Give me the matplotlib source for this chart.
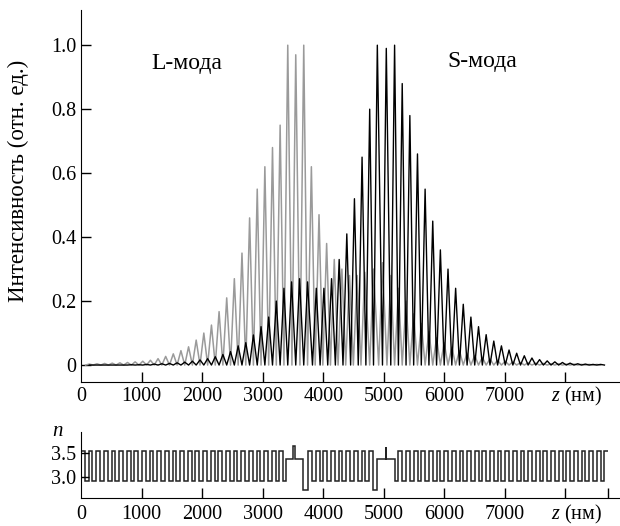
import numpy as np
import matplotlib.pyplot as plt

plt.rcParams['font.family'] = ['Liberation Serif', 'DejaVu Serif']
plt.rcParams['mathtext.fontset'] = 'custom'
plt.rcParams['mathtext.it'] = 'Liberation Serif:italic'
plt.rcParams['mathtext.rm'] = 'Liberation Serif'
plt.rcParams['font.size'] = 14.5

# --- refractive index profile ---
n_hi, n_lo = 3.55, 2.92          # mirror layers
n_cav, n_deep = 3.375, 2.735     # defect layers
n_qw1, n_qw2 = 3.64, 3.62        # thin wells inside the defects
d_hi, d_lo = 63, 63              # mirror layer thickness, nm
n_pairs1, n_pairs2, n_pairs3 = 26, 8, 27

# defect 1: low, cavity (with well), deep
def1_d = [50, 110, 40, 126, 85]
def1_n = [n_lo, n_cav, n_qw1, n_cav, n_deep]
# defect 2: deep, cavity (with well), low
def2_d = [66, 142, 12, 147, 54]
def2_n = [n_deep, n_cav, n_qw2, n_cav, n_lo]

# --- intensity peaks ---
period = 126
# L-mode (grey): left of defect 1, defect 1, between defects, defect 2, right
L_left = [0.003, 0.004, 0.005, 0.006, 0.007, 0.008, 0.01, 0.012, 0.015, 0.02,
          0.027, 0.035, 0.045, 0.057, 0.078, 0.1, 0.125, 0.167, 0.21, 0.27,
          0.35, 0.46, 0.55, 0.62, 0.68, 0.75]
L_def1 = [1.0, 0.97, 1.0]
L_mid = [0.62, 0.47, 0.38, 0.33, 0.3, 0.28, 0.28, 0.29]
L_def2 = [0.3, 0.32, 0.28]
L_right = [0.24, 0.2, 0.16, 0.13, 0.105, 0.085, 0.07, 0.056, 0.045, 0.037,
           0.03, 0.024, 0.019, 0.015, 0.012, 0.01, 0.008, 0.007, 0.006, 0.005,
           0.004, 0.004, 0.003, 0.003, 0.002, 0.002, 0.002]
# S-mode (black)
S_left = [0.0, 0.0, 0.0, 0.0, 0.0, 0.001, 0.001, 0.002, 0.003, 0.004,
          0.005, 0.007, 0.009, 0.012, 0.016, 0.02, 0.026, 0.033, 0.042, 0.06,
          0.07, 0.094, 0.12, 0.15, 0.2, 0.24]
S_def1 = [0.26, 0.27, 0.26]
S_mid = [0.24, 0.24, 0.27, 0.33, 0.41, 0.52, 0.65, 0.8]
S_def2 = [1.0, 0.99, 1.0]
S_right = [0.88, 0.78, 0.66, 0.55, 0.45, 0.36, 0.3, 0.24, 0.19, 0.15,
           0.12, 0.095, 0.075, 0.06, 0.047, 0.037, 0.029, 0.022, 0.017, 0.013,
           0.01, 0.008, 0.006, 0.004, 0.003, 0.002, 0.002]
L_def1_z = [3414, 3546, 3678]
S_def2_z = [4893, 5041, 5178]

xticks = [0, 1000, 2000, 3000, 4000, 5000, 6000, 7000]


def build_layers():
    d, n = [], []
    d += [d_hi, d_lo] * n_pairs1 + [d_hi]
    n += [n_hi, n_lo] * n_pairs1 + [n_hi]
    d += def1_d
    n += def1_n
    d += [d_hi, d_lo] * n_pairs2 + [d_hi]
    n += [n_hi, n_lo] * n_pairs2 + [n_hi]
    d += def2_d
    n += def2_n
    d += [d_hi, d_lo] * n_pairs3 + [d_hi]
    n += [n_hi, n_lo] * n_pairs3 + [n_hi]
    edges = np.concatenate([[0], np.cumsum(d)])
    return edges, np.array(n)


def zigzag(z, h):
    # peak-to-trough polyline, one peak per structure period
    xs, ys = [], []
    for zz, hh in zip(z, h):
        xs += [zz - period / 2, zz]
        ys += [0, hh]
    xs.append(z[-1] + period / 2)
    ys.append(0)
    return xs, ys


edges, nvals = build_layers()

# peak positions follow the structure period
L_z = ([L_def1_z[0] - period * k for k in range(len(L_left), 0, -1)] + L_def1_z +
       [L_def1_z[-1] + period * k for k in range(1, len(L_mid) + 1)])
L_z += [zz - period / 2 for zz in S_def2_z]
L_z += [S_def2_z[-1] + period / 2 + period * k for k in range(len(L_right))]
L_h = L_left + L_def1 + L_mid + L_def2 + L_right

S_z = ([L_def1_z[0] + period / 2 - period * k for k in range(len(S_left), 0, -1)] +
       [zz + period / 2 for zz in L_def1_z] +
       [S_def2_z[0] - period * k for k in range(len(S_mid), 0, -1)] + S_def2_z +
       [S_def2_z[-1] + period * k for k in range(1, len(S_right) + 1)])
S_h = S_left + S_def1 + S_mid + S_def2 + S_right

fig = plt.figure(figsize=(6.2, 5.26), dpi=100)
ax = fig.add_axes([81 / 620, 1 - 382 / 526, 1 - 81 / 620, 372 / 526])
ax2 = fig.add_axes([81 / 620, 1 - 498 / 526, 1 - 81 / 620, 66 / 526])

lx, ly = zigzag(L_z, L_h)
sx, sy = zigzag(S_z, S_h)
ax.plot(lx, ly, color='#9a9a9a', lw=1.1)
ax.plot(sx, sy, color='black', lw=1.0)

ax.set_xlim(0, 8900)
ax.set_ylim(-0.053, 1.11)
for a in (ax, ax2):
    a.spines['top'].set_visible(False)
    a.spines['right'].set_visible(False)
    a.tick_params(direction='in', length=7, width=1, labelsize=14.5)
ax.set_xticks(xticks[1:] + [8000])
ax.set_xticklabels([])
ax.set_yticks([0, 0.2, 0.4, 0.6, 0.8, 1.0])
ax.set_yticklabels(['0', '0.2', '0.4', '0.6', '0.8', '1.0'])
ax.set_ylabel('Интенсивность (отн. ед.)', fontsize=16.5)
ax.yaxis.set_label_coords(-0.096, 0.54)
ax.text(1740, 0.944, 'L-мода', ha='center', va='center', fontsize=17)
ax.text(6620, 0.95, 'S-мода', ha='center', va='center', fontsize=17)

# x labels written as text so the last slot can carry the axis name
for a, y in ((ax, -0.038), (ax2, -0.25)):
    for x in xticks:
        a.text(x, y, str(x), transform=a.get_xaxis_transform(), ha='center', va='center', fontsize=14.5)
    a.text(8180, y, r'$z$ (нм)', transform=a.get_xaxis_transform(), ha='center', va='center', fontsize=14.5)

ax2.stairs(nvals, edges, color='#222222', lw=1.1, baseline=None)
ax2.set_xlim(0, 8900)
ax2.set_ylim(2.57, 3.94)
ax2.set_xticks(xticks[1:] + [8000, edges[-1]])
ax2.set_xticklabels([])
ax2.set_yticks([3.0, 3.5])
ax2.set_yticklabels(['3.0', '3.5'])
ax2.tick_params(axis='y', length=6)
ax2.text(-0.043, 1.0, r'$n$', transform=ax2.transAxes, ha='center', va='center', fontsize=15)

fig.savefig('out.png', dpi=100)
